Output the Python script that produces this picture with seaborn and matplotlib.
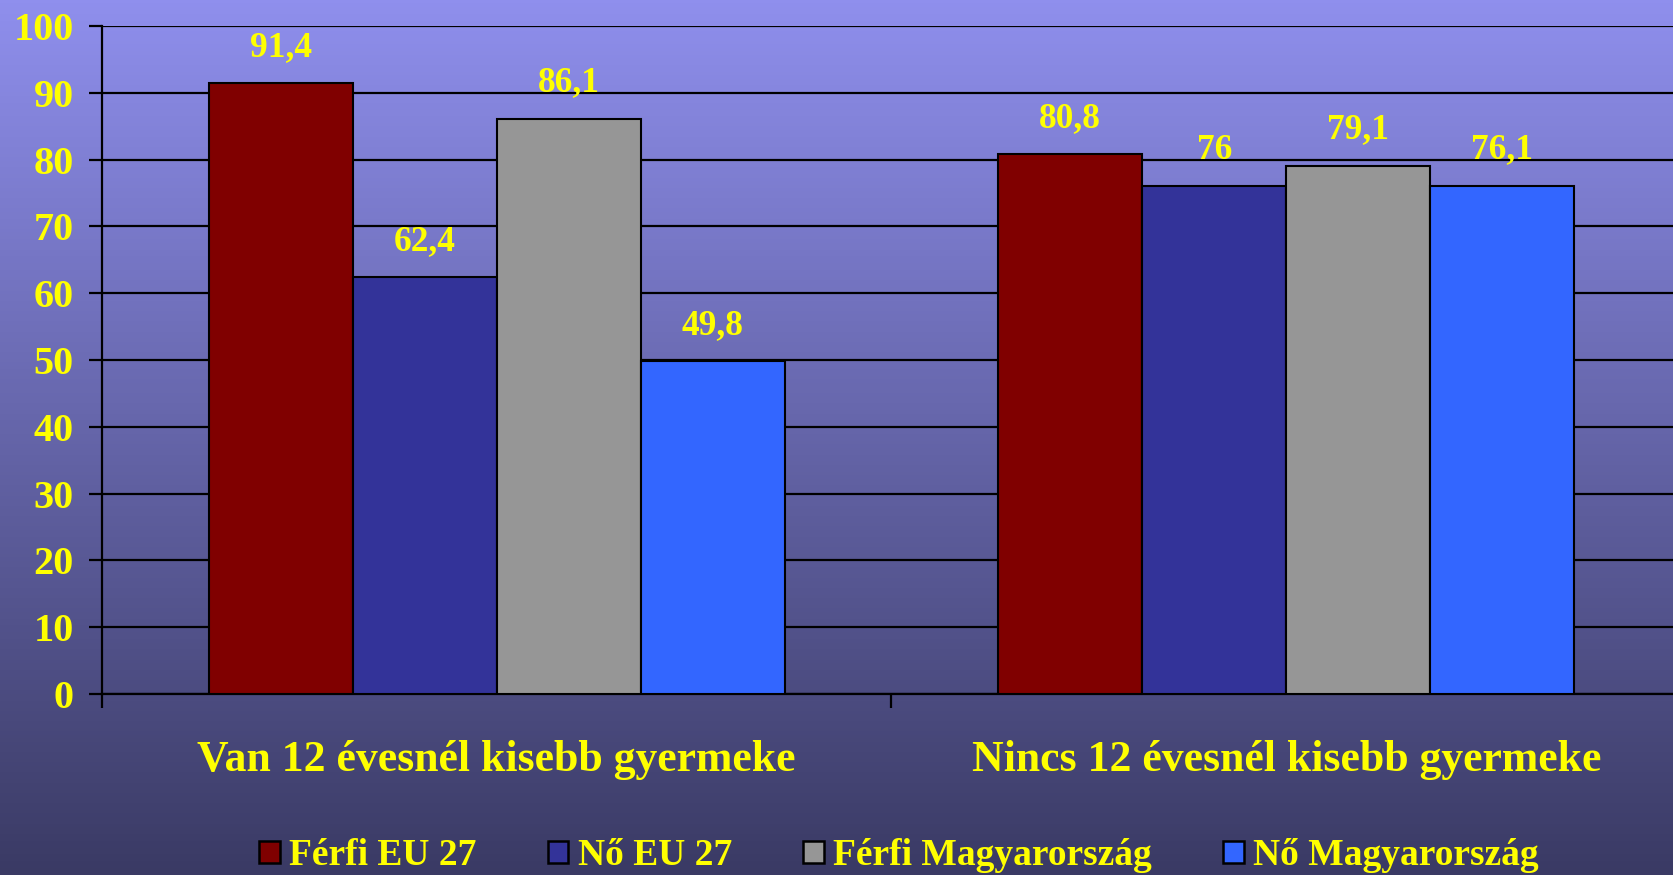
#!/usr/bin/env python3
import matplotlib
matplotlib.use("Agg")
import matplotlib.pyplot as plt
import numpy as np
import pandas as pd
import seaborn as sns
from matplotlib.patches import Patch

l_category = ["Van 12 évesnél kisebb gyermeke", "Nincs 12 évesnél kisebb gyermeke"]
l_series = ["Férfi EU 27", "Nő EU 27", "Férfi Magyarország", "Nő Magyarország"]
l_colour = ["#800000", "#333399", "#969696", "#3366FF"]
ferfi_eu = [91.4, 80.8]
no_eu = [62.4, 76]
ferfi_hu = [86.1, 79.1]
no_hu = [49.8, 76.1]
l_ytick = [0, 10, 20, 30, 40, 50, 60, 70, 80, 90, 100]

YELLOW = "#FFFF00"


def fmt(v: float) -> str:
    return str(int(v)) if float(v).is_integer() else f"{v:.1f}".replace(".", ",")


def main() -> None:
    sns.set_style("white")
    plt.rcParams["font.family"] = ["Liberation Serif", "DejaVu Serif"]
    plt.rcParams["font.weight"] = "bold"

    rows = []
    for s_series, values in zip(l_series, [ferfi_eu, no_eu, ferfi_hu, no_hu]):
        for s_cat, v in zip(l_category, values):
            rows.append({"kategoria": s_cat, "csoport": s_series, "ertek": v})
    df = pd.DataFrame(rows)

    fig = plt.figure(figsize=(16.74, 8.75), dpi=100)

    # gradient background
    ax_bg = fig.add_axes([0, 0, 1, 1], zorder=-1)
    top = np.array([143, 143, 237]) / 255
    bottom = np.array([58, 58, 100]) / 255
    t = np.linspace(0, 1, 256)[:, None]
    grad = top * (1 - t) + bottom * t
    ax_bg.imshow(grad[:, None, :], aspect="auto", extent=[0, 1, 0, 1])
    ax_bg.set_axis_off()

    ax = fig.add_axes([102 / 1674, 181 / 875, 1579 / 1674, 668 / 875])
    ax.set_facecolor("none")
    sns.barplot(
        data=df, x="kategoria", y="ertek", hue="csoport",
        order=l_category, hue_order=l_series, palette=l_colour,
        width=0.73, edgecolor="black", linewidth=1.5, saturation=1,
        legend=False, ax=ax, zorder=3,
    )
    for container, values in zip(ax.containers, [ferfi_eu, no_eu, ferfi_hu, no_hu]):
        ax.bar_label(container, labels=[fmt(v) for v in values], padding=14,
                     color=YELLOW, fontsize=25.5, fontweight="bold")

    ax.set_ylim(0, 100)
    ax.set_xlim(-0.5, 1.5)
    ax.set_yticks(l_ytick)
    ax.set_yticklabels([str(v) for v in l_ytick])
    ax.yaxis.grid(True, color="black", linewidth=1.6)
    ax.set_axisbelow(True)
    ax.set_xlabel("")
    ax.set_ylabel("")

    ax.set_xticks([-0.5, 0.5, 1.5])
    ax.set_xticklabels([])
    ax.set_xticks([0, 1], minor=True)
    ax.set_xticklabels(l_category, minor=True)
    ax.tick_params(axis="x", which="minor", bottom=False, length=0, pad=33,
                   labelsize=31.5, labelcolor=YELLOW)
    ax.tick_params(axis="x", which="major", bottom=True, length=10, width=1.6,
                   direction="out", color="black")
    ax.tick_params(axis="y", left=True, length=9.5, width=1.6, direction="out",
                   color="black", pad=11, labelsize=29, labelcolor=YELLOW)
    for label in ax.get_xticklabels(minor=True) + ax.get_yticklabels():
        label.set_fontweight("bold")

    for s in ["top", "right"]:
        ax.spines[s].set_visible(False)
    for s in ["left", "bottom"]:
        ax.spines[s].set_color("black")
        ax.spines[s].set_linewidth(1.6)

    handles = [Patch(facecolor=c, edgecolor="black", linewidth=1.8) for c in l_colour]
    leg = fig.legend(
        handles, l_series, loc="center", bbox_to_anchor=(0.537, 0.022),
        ncol=4, frameon=False, fontsize=27, handlelength=0.55,
        handleheight=0.55, handletextpad=0.25, columnspacing=1.9,
    )
    for text in leg.get_texts():
        text.set_color(YELLOW)
        text.set_fontweight("bold")

    fig.savefig("out.png", dpi=100)


main()
